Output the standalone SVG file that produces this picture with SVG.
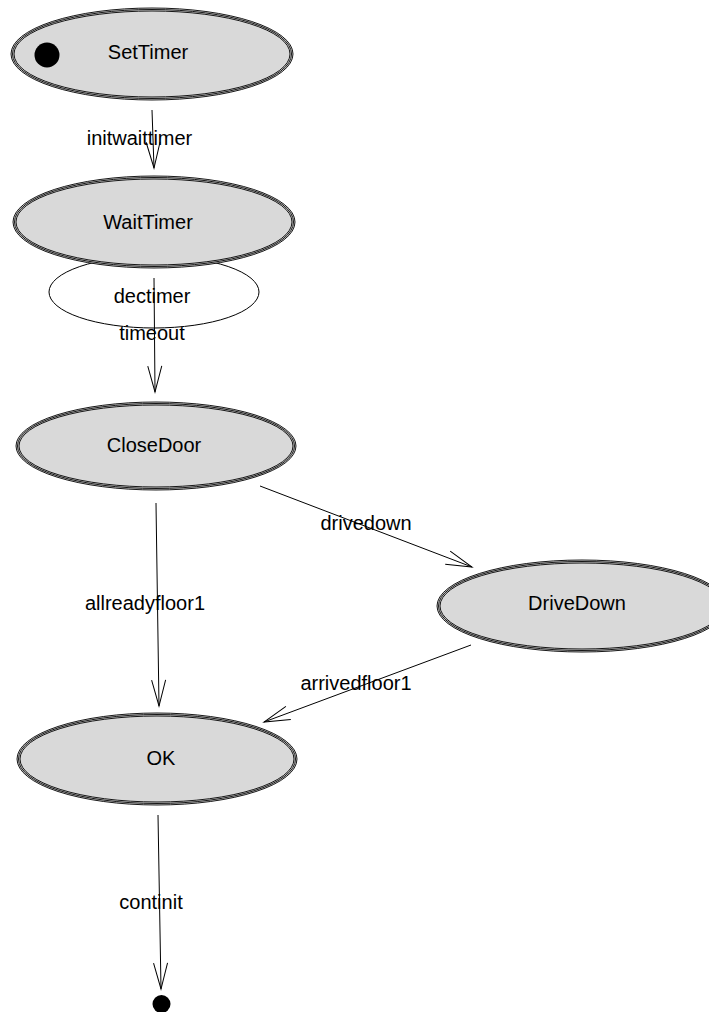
<svg xmlns="http://www.w3.org/2000/svg" width="709" height="1012" viewBox="0 0 709 1012">
  <style>
    .st { fill: #d9d9d9; stroke: #000; stroke-width: 0.9; }
    .ring { fill: none; stroke: #000; stroke-width: 0.9; }
    .lbl { font-family: "Liberation Sans", Arial, sans-serif; font-size: 20px; fill: #000; text-anchor: middle; }
    .edge { fill: none; stroke: #000; stroke-width: 1; }
  </style>
  <defs>
    <marker id="arrow" markerUnits="userSpaceOnUse" markerWidth="40" markerHeight="20" refX="0" refY="0" viewBox="-30 -10 40 20" orient="auto" overflow="visible">
      <path d="M -26 -7 L 0 0 L -26 7" fill="none" stroke="#000" stroke-width="1"/>
    </marker>
  </defs>

  <!-- self-loop of WaitTimer, drawn beneath the state -->
  <g id="loop-dectimer">
    <ellipse cx="154" cy="292" rx="105" ry="36" fill="#fff" stroke="#000" stroke-width="1"/>
  </g>

  <g id="SetTimer">
    <ellipse class="st" cx="152" cy="54" rx="141" ry="46"/>
    <ellipse class="ring" cx="152" cy="54" rx="139.5" ry="44.5"/>
    <ellipse class="ring" cx="152" cy="54" rx="138" ry="43"/>
    <circle cx="47" cy="55" r="12.5" fill="#000"/>
    <text class="lbl" x="148" y="59">SetTimer</text>
  </g>

  <g id="WaitTimer">
    <ellipse class="st" cx="154" cy="222" rx="141" ry="46"/>
    <ellipse class="ring" cx="154" cy="222" rx="139.5" ry="44.5"/>
    <ellipse class="ring" cx="154" cy="222" rx="138" ry="43"/>
    <text class="lbl" x="148" y="229">WaitTimer</text>
  </g>

  <g id="CloseDoor">
    <ellipse class="st" cx="156" cy="446" rx="140" ry="44"/>
    <ellipse class="ring" cx="156" cy="446" rx="138.5" ry="42.5"/>
    <ellipse class="ring" cx="156" cy="446" rx="137" ry="41"/>
    <text class="lbl" x="154" y="452">CloseDoor</text>
  </g>

  <g id="DriveDown">
    <ellipse class="st" cx="582" cy="606" rx="145" ry="46"/>
    <ellipse class="ring" cx="582" cy="606" rx="143.5" ry="44.5"/>
    <ellipse class="ring" cx="582" cy="606" rx="142" ry="43"/>
    <text class="lbl" x="577" y="610">DriveDown</text>
  </g>

  <g id="OK">
    <ellipse class="st" cx="157" cy="759" rx="140" ry="46"/>
    <ellipse class="ring" cx="157" cy="759" rx="138.5" ry="44.5"/>
    <ellipse class="ring" cx="157" cy="759" rx="137" ry="43"/>
    <text class="lbl" x="161" y="765">OK</text>
  </g>

  <g id="Final">
    <circle cx="161.5" cy="1004" r="9" fill="#000"/>
  </g>

  <g id="connectors">
    <line class="edge" x1="152" y1="110" x2="154" y2="168" marker-end="url(#arrow)"/>
    <line class="edge" x1="154" y1="278" x2="155" y2="392" marker-end="url(#arrow)"/>
    <line class="edge" x1="260" y1="486" x2="472" y2="567" marker-end="url(#arrow)"/>
    <line class="edge" x1="156" y1="503" x2="159" y2="706" marker-end="url(#arrow)"/>
    <line class="edge" x1="471" y1="645" x2="264" y2="722" marker-end="url(#arrow)"/>
    <line class="edge" x1="158" y1="815" x2="161" y2="989" marker-end="url(#arrow)"/>

    <text class="lbl" x="139.5" y="145">initwaittimer</text>
    <text class="lbl" x="152" y="303">dectimer</text>
    <text class="lbl" x="152" y="340">timeout</text>
    <text class="lbl" x="366" y="530">drivedown</text>
    <text class="lbl" x="145" y="610">allreadyfloor1</text>
    <text class="lbl" x="356" y="690">arrivedfloor1</text>
    <text class="lbl" x="151" y="909">continit</text>
  </g>
</svg>
